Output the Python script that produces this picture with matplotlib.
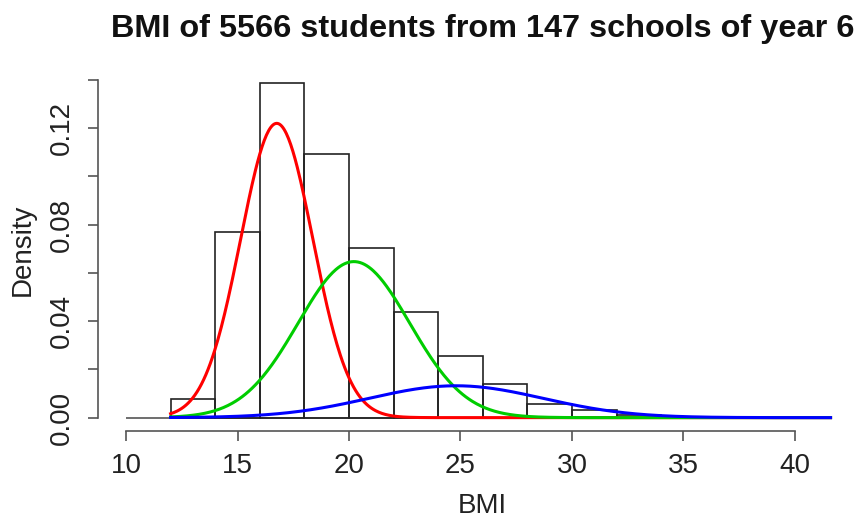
import numpy as np
import matplotlib
matplotlib.use("Agg")
import matplotlib.pyplot as plt

plt.rcParams['font.family'] = ['Liberation Sans', 'DejaVu Sans']

# histogram (density scale), bins of width 2
bin_edges = [12, 14, 16, 18, 20, 22, 24, 26, 28, 30, 32, 34]
densities = [0.0079, 0.0768, 0.1385, 0.1094, 0.0703, 0.0439,
             0.0256, 0.0141, 0.0058, 0.0032, 0.0011]

# fitted normal mixture components: weight, mean, sd
comp_colors = ['#ff0000', '#00cd00', '#0000ff']
comp_weights = [0.495, 0.405, 0.129]
comp_means = [16.76, 20.22, 24.8]
comp_sds = [1.62, 2.50, 3.9]

bmi_min, bmi_max = 12.0, 41.6
baseline_from = 10.0

fig = plt.figure(figsize=(8.6, 5.2), dpi=100)
# plot region runs a bit past the right edge like the original (cropped)
ax = fig.add_axes([97.5 / 860, 1 - 431 / 520, (868 - 97.5) / 860, (431 - 70) / 520])

lefts = np.array(bin_edges[:-1])
widths = np.diff(bin_edges)
ax.bar(lefts, densities, width=widths, align='edge', facecolor='none',
       edgecolor='#222222', linewidth=1.2, zorder=2)
ax.hlines(0, baseline_from, bmi_max, color='#555555', linewidth=1.2, zorder=1)

xs = np.linspace(bmi_min, bmi_max, 600)
for w, m, s, c in zip(comp_weights, comp_means, comp_sds, comp_colors):
    ys = w * np.exp(-0.5 * ((xs - m) / s) ** 2) / (s * np.sqrt(2 * np.pi))
    ax.plot(xs, ys, color=c, linewidth=2.2, zorder=3)

ax.set_xlim(8.72, 43.28)
ax.set_ylim(-0.00554, 0.1440)

for side in ['top', 'right']:
    ax.spines[side].set_visible(False)
ax.spines['left'].set_bounds(0, 0.14)
ax.spines['bottom'].set_bounds(10, 40)
for side in ['left', 'bottom']:
    ax.spines[side].set_color('#555555')
    ax.spines[side].set_linewidth(1.2)

ax.set_xticks([10, 15, 20, 25, 30, 35, 40])
ax.set_yticks([0, 0.02, 0.04, 0.06, 0.08, 0.10, 0.12, 0.14])
ax.set_yticklabels(['0.00', '', '0.04', '', '0.08', '', '0.12', ''],
                   rotation=90, va='center')
ax.tick_params(direction='out', length=7.5, width=1.2, color='#555555',
               labelsize=20, labelcolor='#222222')
ax.tick_params(axis='x', pad=8)
ax.tick_params(axis='y', pad=9)

ax.set_xlabel('BMI', fontsize=20, color='#222222')
ax.xaxis.set_label_coords(0.5, -(506 - 431) / 361)
ax.xaxis.label.set_va('center')
ax.set_ylabel('Density', fontsize=20, color='#222222')
ax.yaxis.set_label_coords(-(97.5 - 23) / 770.5, (431 - 250) / 361)
ax.yaxis.label.set_va('center')

fig.text(482.5 / 860, 1 - 37 / 520,
         'BMI of 5566 students from 147 schools of year 6',
         ha='center', va='baseline', fontsize=23.4, fontweight='bold', color='#111111')

fig.savefig('out.png', dpi=100)
